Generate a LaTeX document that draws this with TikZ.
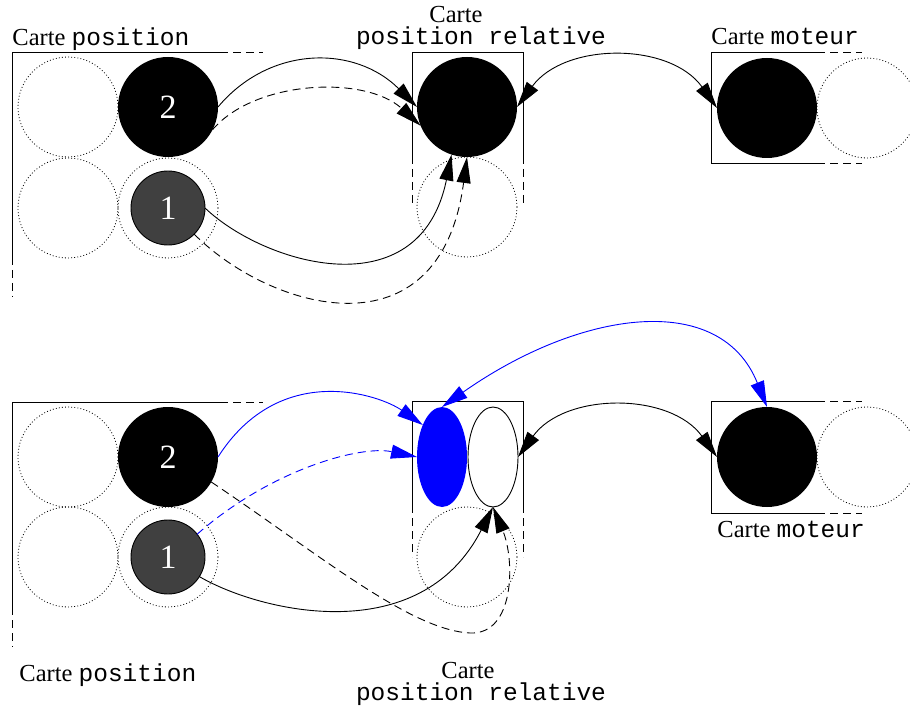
\documentclass[tikz,border=0pt]{standalone}
\usepackage{fontspec}
\setmainfont{Liberation Serif}
\setmonofont{Liberation Mono}
\usetikzlibrary{arrows.meta, shapes.geometric}

\begin{document}
\begin{tikzpicture}[x=1pt, y=-1pt, line width=0.9pt,
  >={Triangle[length=26pt, width=14pt]},
  spot/.style={circle, minimum size=100pt, inner sep=0pt, outer sep=0pt},
  freeslot/.style={spot, draw, dash pattern=on 0.9pt off 2.2pt, line width=0.8pt},
  puck/.style={spot, fill=black, text=white, font=\fontsize{34}{34}\selectfont},
  token/.style={circle, minimum size=74pt, inner sep=0pt, outer sep=0pt, draw, fill=black!75, text=white, font=\fontsize{34}{34}\selectfont},
  halfpuck/.style={ellipse, minimum width=50pt, minimum height=100pt, inner sep=0pt, outer sep=0pt},
  lbl/.style={font=\fontsize{24.5}{26}\selectfont, inner sep=0pt},
  cut/.style={dash pattern=on 8pt off 5pt}]
\useasboundingbox (0,0) rectangle (910,708);

% haut : les cartes
\draw (220,52) -- (12,52) -- (12,257);
\draw[cut] (220,52) -- (263,52) (12,257) -- (12,297);
\draw (412,156) -- (412,52) -- (523,52) -- (523,156);
\draw[cut] (412,156) -- (412,207) (523,156) -- (523,207);
\draw (817,52) -- (711,52) -- (711,163) -- (817,163);
\draw[cut] (817,52) -- (862,52) (817,163) -- (862,163);

\node[lbl, anchor=base west] (tpos) at (12,46) {Carte \texttt{position}};
\node[lbl, anchor=base, text depth=0pt] (trel1) at (456,23) {Carte};
\node[lbl, anchor=base, text height=10pt] (trel2) at (481,45) {\texttt{position relative}};
\node[lbl, anchor=base west] (tmot) at (711,45) {Carte \texttt{moteur}};

\node[freeslot] (pa) at (68,107) {};
\node[freeslot] (pc) at (68,208) {};
\node[freeslot] (pd) at (168,208) {};
\node[puck] (pb) at (168,107) {2};
\node[token] (p1) at (168,208) {1};
\node[freeslot] (m2) at (467,207) {};
\node[puck] (m1) at (467,107) {};
\node[freeslot] (e2) at (867,108) {};
\node[puck] (e1) at (767,108) {};

\draw[->] (pb.east) .. controls (270,45) and (355,45) .. (m1.west);
\draw[->, cut] (pb.-27) .. controls (255,80) and (365,75) .. (m1.202);
\draw[->] (p1.east) .. controls (265,265) and (420,310) .. (m1.-108);
\draw[->, cut] (p1.-45) .. controls (270,310) and (440,360) .. (m1.south);
\draw[<->] (m1.east) .. controls (565,42) and (670,42) .. (e1.west);

% bas : les cartes
\draw (220,402) -- (12,402) -- (12,607);
\draw[cut] (220,402) -- (263,402) (12,607) -- (12,647);
\draw (412,505) -- (412,401) -- (523,401) -- (523,505);
\draw[cut] (412,505) -- (412,557) (523,505) -- (523,557);
\draw (817,401) -- (711,401) -- (711,513) -- (817,513);
\draw[cut] (817,401) -- (862,401) (817,513) -- (862,513);

\node[lbl, anchor=base west] (bpos) at (19,681) {Carte \texttt{position}};
\node[lbl, anchor=base, text depth=0pt] (brel1) at (468,678) {Carte};
\node[lbl, anchor=base, text height=10pt] (brel2) at (481,700) {\texttt{position relative}};
\node[lbl, anchor=base west] (bmot) at (717,537) {Carte \texttt{moteur}};

\node[freeslot] (qa) at (68,457) {};
\node[freeslot] (qc) at (68,557) {};
\node[freeslot] (qd) at (168,557) {};
\node[puck] (qb) at (168,457) {2};
\node[token] (q1) at (168,557) {1};
\node[freeslot] (n3) at (467,557) {};
\node[halfpuck, fill=blue] (n1) at (442,457) {};
\node[halfpuck, draw, fill=white] (n2) at (493,457) {};
\node[freeslot] (f2) at (867,457) {};
\node[puck] (f1) at (767,457) {};

\draw[->, blue] (qb.east) .. controls (280,360) and (380,395) .. (n1.121);
\draw[->, blue, cut] (q1.38) .. controls (270,470) and (360,445) .. (n1.west);
\draw[->, cut] (qb.-30) .. controls (320,555) and (410,630) .. (470,633)
  .. controls (515,635) and (515,560) .. (n2.south);
\draw[->] (q1.-32) .. controls (260,612) and (420,650) .. (n2.south);
\draw[<->] (n2.east) .. controls (565,392) and (670,392) .. (f1.west);
\draw[<->, blue] (n1.north) .. controls (580,310) and (720,290) .. (f1.north);
\end{tikzpicture}
\end{document}
